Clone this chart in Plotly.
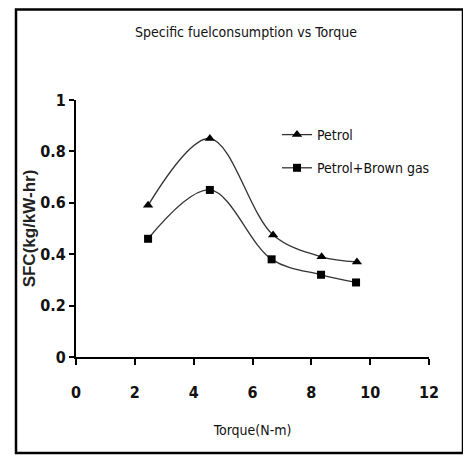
import plotly.graph_objects as go

torque_petrol = [2.45, 4.55, 6.7, 8.35, 9.55]
sfc_petrol = [0.59, 0.85, 0.475, 0.39, 0.37]
torque_brown = [2.45, 4.55, 6.65, 8.33, 9.52]
sfc_brown = [0.46, 0.65, 0.38, 0.32, 0.29]
x_ticks = [0, 2, 4, 6, 8, 10, 12]
y_ticks = [0, 0.2, 0.4, 0.6, 0.8, 1]
y_tick_labels = ["0", "0.2", "0.4", "0.6", "0.8", "1"]

FONT = "DejaVu Sans Condensed, Liberation Sans Narrow, Liberation Sans, Arial"

fig = go.Figure()
fig.add_trace(go.Scatter(
    x=torque_petrol, y=sfc_petrol, name="Petrol", mode="lines+markers",
    legendgroup="a",
    line=dict(color="#333", width=1.3, shape="spline", smoothing=1.0),
    marker=dict(symbol="triangle-up", size=9, color="black"),
))
fig.add_trace(go.Scatter(
    x=torque_brown, y=sfc_brown, name="Petrol+Brown gas", mode="lines+markers",
    legendgroup="b",
    line=dict(color="#333", width=1.3, shape="spline", smoothing=1.0),
    marker=dict(symbol="square", size=8, color="black"),
))

# page body has an 8px margin: figure origin is at screen (8, 8)
OFF = 8
W, H = 463, 452
L, R, T, B = 76 - OFF, 42, 100 - OFF, 103
pw, ph = W - L - R, H - T - B

def px_x(p):
    return (p - OFF - L) / pw

def px_y(p):
    return (H - B - (p - OFF)) / ph

fig.add_shape(type="rect", xref="paper", yref="paper",
              x0=px_x(16), x1=px_x(463), y0=px_y(453), y1=px_y(9.5),
              line=dict(color="black", width=2.5), fillcolor="rgba(0,0,0,0)")

fig.add_annotation(text="Specific fuelconsumption vs Torque", xref="paper", yref="paper",
                   x=px_x(246), y=px_y(32), showarrow=False, yanchor="middle",
                   font=dict(family=FONT, size=14, color="#111"))

fig.update_layout(
    width=W, height=H,
    margin=dict(l=L, r=R, t=T, b=B),
    paper_bgcolor="white", plot_bgcolor="white",
    font=dict(family=FONT, color="#111"),
    showlegend=True,
    legend=dict(x=px_x(277), y=px_y(119), xanchor="left", yanchor="top",
                bgcolor="rgba(0,0,0,0)", font=dict(family=FONT, size=14, color="#111"),
                tracegroupgap=12, traceorder="grouped", itemwidth=30),
    xaxis=dict(range=[0, 12], tickvals=x_ticks, ticks="outside", ticklen=6, tickwidth=2,
               tickcolor="black", showline=True, linecolor="black", linewidth=2,
               showgrid=False, zeroline=False, ticklabelstandoff=14,
               tickfont=dict(family=FONT, size=16, color="#111", weight="bold"),
               title=dict(text="Torque(N-m)", font=dict(family=FONT, size=14, color="#111"), standoff=24)),
    yaxis=dict(range=[0, 1], tickvals=y_ticks, ticktext=y_tick_labels, ticks="outside",
               ticklen=5, tickwidth=2, tickcolor="black", showline=True, linecolor="black",
               linewidth=2, showgrid=False, zeroline=False,
               tickfont=dict(family=FONT, size=16, color="#111", weight="bold"),
               title=dict(text="<b>SFC(kg/kW-hr)</b>", font=dict(family="Liberation Sans, Arial", size=17, color="#222"), standoff=0)),
)

fig.write_html("out.html")
